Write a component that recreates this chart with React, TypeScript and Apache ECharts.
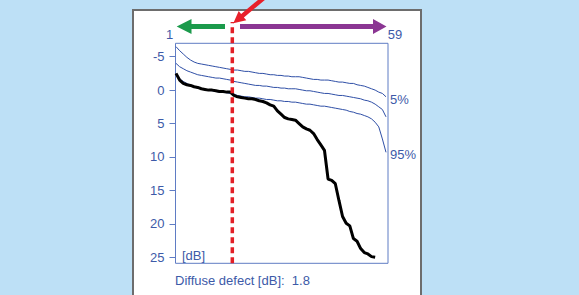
import React, { useEffect, useRef } from "react";
import * as echarts from "echarts";

const RANK_LABELS = ["1", "59"];
const RANK_TICKS = [1, 59];
const Y_TICKS = [-5, 0, 5, 10, 15, 20, 25];

const P5 = [
  -6.5, -5.9, -5.4, -4.9, -4.5, -4.2, -4.0, -3.9, -3.8, -3.7,
  -3.6, -3.5, -3.4, -3.3, -3.2, -3.1, -3.0, -3.0, -2.9, -2.8,
  -2.8, -2.7, -2.6, -2.5, -2.5, -2.4, -2.3, -2.3, -2.2, -2.2,
  -2.1, -2.1, -2.0, -2.0, -2.0, -1.9, -1.8, -1.7, -1.6, -1.6,
  -1.5, -1.5, -1.5, -1.4, -1.3, -1.2, -1.2, -1.1, -1.0, -1.0,
  -0.8, -0.7, -0.6, -0.4, -0.2, 0.0, 0.3, 0.5, 1.0,
];
const P50 = [
  -4.0, -3.5, -3.2, -2.9, -2.7, -2.5, -2.3, -2.2, -2.1, -2.0,
  -1.9, -1.8, -1.8, -1.7, -1.6, -1.5, -1.3, -1.2, -1.1, -1.0,
  -0.9, -0.8, -0.7, -0.7, -0.6, -0.6, -0.5, -0.4, -0.4, -0.3,
  -0.3, -0.2, -0.2, -0.2, -0.1, 0.0, 0.1, 0.1, 0.2, 0.3,
  0.4, 0.5, 0.5, 0.6, 0.7, 0.8, 0.8, 0.9, 1.0, 1.1,
  1.2, 1.3, 1.5, 1.6, 1.8, 2.1, 2.5, 2.9, 4.0,
];
const P95 = [
  -2.2, -1.7, -1.3, -1.0, -0.7, -0.5, -0.3, -0.2, -0.1, 0.0,
  0.1, 0.2, 0.3, 0.3, 0.4, 0.5, 0.6, 0.8, 0.9, 1.0,
  1.0, 1.1, 1.2, 1.2, 1.3, 1.4, 1.4, 1.5, 1.6, 1.6,
  1.7, 1.7, 1.8, 1.8, 1.9, 2.0, 2.1, 2.1, 2.2, 2.3,
  2.4, 2.4, 2.5, 2.6, 2.7, 2.8, 2.9, 3.0, 3.2, 3.3,
  3.5, 3.6, 3.8, 4.0, 4.3, 4.8, 5.5, 7.3, 9.3,
];
const PATIENT = [
  -2.5, -1.5, -1.0, -0.8, -0.7, -0.5, -0.4, -0.2, -0.1, 0.0,
  0.0, 0.1, 0.2, 0.2, 0.3, 0.3, 0.8, 1.0, 1.1, 1.2,
  1.3, 1.3, 1.4, 1.6, 1.7, 1.9, 2.2, 2.4, 3.1, 3.6,
  4.1, 4.3, 4.4, 4.5, 5.0, 5.5, 5.8, 6.0, 6.5, 7.4,
  8.2, 9.0, 13.3, 13.5, 14.0, 16.5, 18.9, 19.9, 20.3, 22.2,
  22.6, 23.7, 24.3, 24.5, 24.9, 25.0,
];
const CUT_RANK = 16.55;
const LABEL_P5 = "5%";
const LABEL_P95 = "95%";
const UNIT_LABEL = "[dB]";
const DIFFUSE_DEFECT = 1.8;

const BLUE_TEXT = "#3d5aa8";
const BLUE_LINE = "#2f4fa6";
const FRAME = "#5f7cc4";
const FONT = "Liberation Sans, Arial, sans-serif";

const toPairs = (arr: number[]) => arr.map((v, i) => [i + 1, v]);

export default function App() {
  const ref = useRef<HTMLDivElement>(null);
  useEffect(() => {
    if (!ref.current) return;
    const chart = echarts.init(ref.current, undefined, { renderer: "svg" });
    const gridPos = { left: 175.5, width: 212.5 };
    const xRange = { min: 0.86, max: 59.55 };
    chart.setOption({
      animation: false,
      backgroundColor: "#bde0f6",
      textStyle: { fontFamily: FONT },
      grid: [
        { ...gridPos, top: 43.3, height: 220, show: true, borderColor: FRAME, borderWidth: 1, backgroundColor: "transparent", z: 1 },
        { ...gridPos, top: 22, height: 241.3, show: false },
      ],
      xAxis: [
        {
          type: "value",
          gridIndex: 0,
          position: "top",
          ...xRange,
          axisLine: { show: false },
          axisTick: { show: false },
          splitLine: { show: false },
          axisLabel: {
            customValues: RANK_TICKS,
            margin: 2,
            fontSize: 13,
            fontFamily: FONT,
            color: BLUE_TEXT,
            formatter: (v: number) => (v === RANK_TICKS[0] ? `{a|${RANK_LABELS[0]}}` : `{b|${RANK_LABELS[1]}}`),
            rich: {
              a: { fontSize: 13, fontFamily: FONT, color: BLUE_TEXT, padding: [0, 13, 0, 0] },
              b: { fontSize: 13, fontFamily: FONT, color: BLUE_TEXT, padding: [0, 0, 0, 18] },
            },
          },
        },
        { type: "value", gridIndex: 1, ...xRange, show: false },
      ],
      yAxis: [
        {
          type: "value",
          gridIndex: 0,
          inverse: true,
          min: -7,
          max: 25.9,
          axisLine: { show: false },
          splitLine: { show: false },
          axisTick: { show: true, customValues: Y_TICKS, length: 6, lineStyle: { color: FRAME, width: 1 } },
          axisLabel: { customValues: Y_TICKS, margin: 11, fontSize: 13, fontFamily: FONT, color: BLUE_TEXT },
        },
        { type: "value", gridIndex: 1, min: 0, max: 1, show: false },
      ],
      series: [
        {
          type: "line", xAxisIndex: 0, yAxisIndex: 0, data: toPairs(P5), symbol: "none",
          lineStyle: { color: BLUE_LINE, width: 1 },
          endLabel: { show: true, formatter: LABEL_P5, color: BLUE_TEXT, fontSize: 13, fontFamily: FONT, distance: 4, offset: [0, 3] },
        },
        {
          type: "line", xAxisIndex: 0, yAxisIndex: 0, data: toPairs(P50), symbol: "none",
          lineStyle: { color: BLUE_LINE, width: 1 },
        },
        {
          type: "line", xAxisIndex: 0, yAxisIndex: 0, data: toPairs(P95), symbol: "none",
          lineStyle: { color: BLUE_LINE, width: 1 },
          endLabel: { show: true, formatter: LABEL_P95, color: BLUE_TEXT, fontSize: 13, fontFamily: FONT, distance: 4, offset: [0, 2.5] },
        },
        {
          type: "line", xAxisIndex: 0, yAxisIndex: 0, data: toPairs(PATIENT), symbol: "none",
          lineStyle: { color: "#000", width: 3 }, z: 3,
        },
        {
          type: "line", xAxisIndex: 1, yAxisIndex: 1, data: [[CUT_RANK, 0], [CUT_RANK, 1]], symbol: "none",
          lineStyle: { color: "#e31f26", width: 3.5, type: [6, 4] }, z: 4,
        },
      ],
      graphic: [
        {
          type: "rect", z: -10, silent: true,
          shape: { x: 133, y: 10, width: 288, height: 300 },
          style: { fill: "#ffffff", stroke: "#6d6d6d", lineWidth: 2 },
        },
        {
          type: "polygon", z: 5,
          shape: { points: [[176.7, 26.5], [191.5, 19], [191.5, 24], [225, 24], [225, 29], [191.5, 29], [191.5, 34]] },
          style: { fill: "#1b9a4b" },
        },
        {
          type: "polygon", z: 5,
          shape: { points: [[386.5, 26.5], [373, 19], [373, 24], [240, 24], [240, 29], [373, 29], [373, 34]] },
          style: { fill: "#8b3693" },
        },
        {
          type: "polygon", z: 5,
          shape: { points: [[233.3, 23.3], [246.3, 20.3], [243.9, 17.4], [269.3, -3.7], [266.5, -7.1], [241.1, 14.0], [238.7, 11.1]] },
          style: { fill: "#e8202a" },
        },
        {
          type: "text", z: 5, x: 182, y: 255,
          style: { text: UNIT_LABEL, fill: BLUE_TEXT, font: `13px ${FONT}`, verticalAlign: "middle" },
        },
        {
          type: "text", z: 5, x: 175, y: 280,
          style: { text: `Diffuse defect [dB]:  ${DIFFUSE_DEFECT}`, fill: BLUE_TEXT, font: `13px ${FONT}`, verticalAlign: "middle" },
        },
      ],
    });
    return () => chart.dispose();
  }, []);
  return <div ref={ref} style={{ position: "fixed", left: 0, top: 0, width: 579, height: 295 }} />;
}
